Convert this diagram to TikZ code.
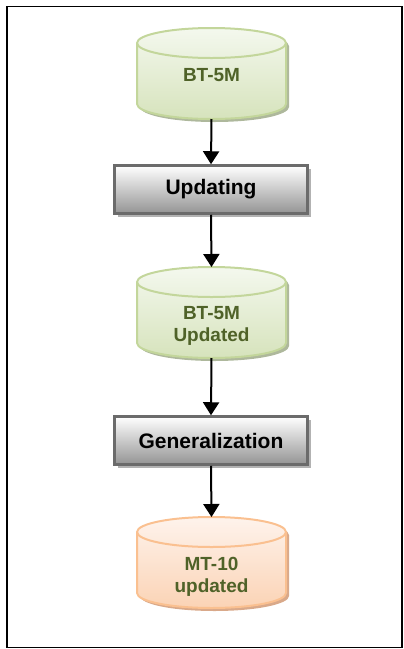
\documentclass[tikz,border=0pt]{standalone}
\usepackage{fontspec}
\setmainfont{Liberation Sans}
\usetikzlibrary{arrows.meta,shadows}
\definecolor{dbline}{HTML}{C3D69B}
\definecolor{dbtop}{HTML}{F4F8EE}
\definecolor{dbbottom}{HTML}{D6E3BC}
\definecolor{dbshadow}{HTML}{AEB89C}
\definecolor{mtline}{HTML}{FAC090}
\definecolor{mttop}{HTML}{FEF3EC}
\definecolor{mtbottom}{HTML}{FBD3B5}
\definecolor{mtshadow}{HTML}{D9A98A}
\definecolor{dbtext}{HTML}{4F6228}
% cylinder drawn round an empty node: #1 node, #2 colour prefix
\newcommand{\drawcylinder}[2]{%
  \path [draw=#2line, line width=2pt, top color=#2top, bottom color=#2bottom,
         drop shadow={shadow xshift=3pt, shadow yshift=-3pt, fill=#2shadow, opacity=1}]
    ([yshift=-15pt]#1.north west) -- ([yshift=15pt]#1.south west)
    arc [start angle=180, end angle=360, x radius=74.5pt, y radius=15pt]
    -- ([yshift=-15pt]#1.north east)
    arc [start angle=0, end angle=180, x radius=74.5pt, y radius=15pt] -- cycle;
  \draw [#2line, line width=2pt] ([yshift=-15pt]#1.north west)
    arc [start angle=180, end angle=360, x radius=74.5pt, y radius=15pt];
}
\begin{document}
\begin{tikzpicture}[x=1pt,y=-1pt,
    database/.style={rectangle, minimum width=149pt, minimum height=91pt,
        inner sep=0pt, outer sep=0pt},
    dblabel/.style={align=center, font=\bfseries\fontsize{19}{22}\selectfont, text=dbtext},
    process/.style={rectangle, draw=black!58, line width=2.5pt,
        top color=white, bottom color=black!42,
        minimum width=193pt, minimum height=48pt,
        font=\bfseries\fontsize{21}{25}\selectfont,
        drop shadow={shadow xshift=3pt, shadow yshift=-3pt, fill=black!30, opacity=1}},
    flow/.style={-{Triangle[width=16pt,length=13pt]}, line width=2pt}]
    \useasboundingbox (0,0) rectangle (404,649);
    % Frame
    \draw [line width=1.6pt] (7,6.5) rectangle (402,647.5);
    % Nodes
    \node [database] (bt) at (211.5,73.5) {};
    \drawcylinder{bt}{db}
    \node [dblabel] (btlabel) at (211.5,75) {BT-5M};
    \node [process] (upd) at (211,189.5) {Updating};
    \node [database] (btupd) at (211.5,312.5) {};
    \drawcylinder{btupd}{db}
    \node [dblabel] (btupdlabel) at (211.5,326) {BT-5M\\Updated};
    \node [process] (gen) at (211,440.5) {Generalization};
    \node [database] (mt) at (211.5,562.5) {};
    \drawcylinder{mt}{mt}
    \node [dblabel] (mtlabel) at (211.5,577) {MT-10\\updated};
    % Arrows
    \draw [flow] (bt.south) -- (upd.north);
    \draw [flow] (upd.south) -- (btupd.north);
    \draw [flow] (btupd.south) -- (gen.north);
    \draw [flow] (gen.south) -- (mt.north);
\end{tikzpicture}
\end{document}
